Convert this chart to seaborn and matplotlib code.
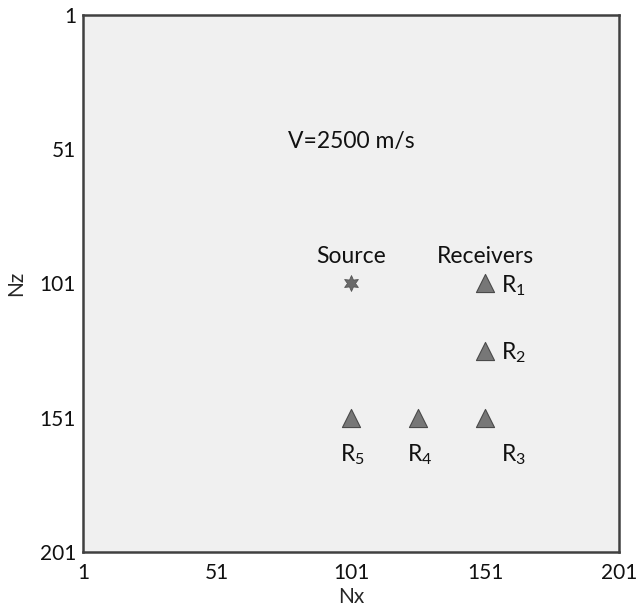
import matplotlib
matplotlib.use("Agg")
import matplotlib.pyplot as plt
import seaborn as sns
import pandas as pd

# Grid model geometry (grid indices)
grid_ticks = [1, 51, 101, 151, 201]
source_x = [101]
source_z = [101]
receiver_names = ["R1", "R2", "R3", "R4", "R5"]
receiver_x = [151, 151, 151, 126, 101]
receiver_z = [101, 126, 151, 151, 151]
velocity_label = "V=2500 m/s"

sns.set_style("white")
plt.rcParams["font.family"] = ["Lato", "DejaVu Sans"]
plt.rcParams["mathtext.fontset"] = "custom"
plt.rcParams["mathtext.rm"] = "Lato"
plt.rcParams["mathtext.it"] = "Lato"

fig = plt.figure(figsize=(6.4, 6.09), dpi=100)
ax = fig.add_axes([0.1297, 0.0936, 0.8375, 0.8818])
ax.set_facecolor("#f0f0f0")

src = pd.DataFrame({"Nx": source_x, "Nz": source_z})
rec = pd.DataFrame({"Nx": receiver_x, "Nz": receiver_z, "name": receiver_names})

sns.scatterplot(data=rec, x="Nx", y="Nz", marker="^", s=170, color="#777777",
                edgecolor="#4a4a4a", linewidth=0.8, ax=ax, zorder=3)
sns.scatterplot(data=src, x="Nx", y="Nz", marker=(6, 1, 0), s=130, color="#6a6a6a",
                edgecolor="#555555", linewidth=0.6, ax=ax, zorder=3)

ax.set_xlim(1, 201)
ax.set_ylim(201, 1)
ax.set_xticks(grid_ticks)
ax.set_yticks(grid_ticks)
ax.set_xticklabels([str(t) for t in grid_ticks])
ax.set_yticklabels([str(t) for t in grid_ticks])
ax.tick_params(axis="x", length=0, labelsize=15, pad=8, colors="#111111")
ax.tick_params(axis="y", length=0, labelsize=15, pad=5, colors="#111111")
ax.set_xlabel("Nx", fontsize=15, labelpad=3)
ax.set_ylabel("Nz", fontsize=15, labelpad=10)

for sp in ax.spines.values():
    sp.set_color("#404040")
    sp.set_linewidth(1.8)

txt = dict(fontsize=16.5, color="#111111")
ax.text(101, 48, velocity_label, ha="center", va="center", **txt)
ax.text(source_x[0], 91, "Source", ha="center", va="center", **txt)
ax.text(151, 91, "Receivers", ha="center", va="center", **txt)

# receiver labels: offsets in grid units relative to each receiver
label_offsets = {"R1": (6.0, 0.8), "R2": (6.0, 0.8), "R3": (6.0, 13.8),
                 "R4": (-4.0, 13.8), "R5": (-4.0, 13.8)}
for name, x, z in zip(receiver_names, receiver_x, receiver_z):
    dx, dz = label_offsets[name]
    ax.text(x + dx, z + dz, f"R$_{{\\mathrm{{{name[1:]}}}}}$", ha="left",
            va="center", **txt)

fig.savefig("out.png", dpi=100)
